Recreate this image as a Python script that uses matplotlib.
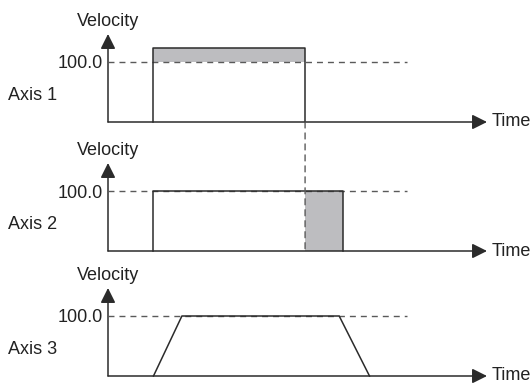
import matplotlib
matplotlib.use("Agg")
import matplotlib.pyplot as plt
from matplotlib.patches import ConnectionPatch

plt.rcParams['font.family'] = ['Liberation Sans', 'DejaVu Sans']

# ---- data (time in arbitrary units, velocity in %) ----
axis_names = ["Axis 1", "Axis 2", "Axis 3"]
ref_velocity = 100.0
ref_label = "100.0"
time_end = 10.0
dash_end = 7.9

# Axis 1 profile (rectangle above 100)
t1 = [1.2, 1.2, 5.2, 5.2]
v1 = [0, 123, 123, 0]
fill1_t = [1.2, 5.2]
fill1_lo = 100
fill1_hi = 123

# Axis 2 profile
t2 = [1.2, 1.2, 6.2, 6.2]
v2 = [0, 100, 100, 0]
fill2_t = [5.2, 6.2]
fill2_lo = 0
fill2_hi = 100

# Axis 3 trapezoid
t3 = [1.2, 1.95, 6.1, 6.9]
v3 = [0, 100, 100, 0]

sync_time = 5.2

# ---- layout ----
W, H = 532, 385
fig = plt.figure(figsize=(W / 100, H / 100), dpi=100)
x0_px, x1_px = 108, 487
baselines = [122, 251, 376]
ax_h_px = 88
ytop = ax_h_px / 60 * 100

line_c = '#2b2b2b'
dash_c = '#5a5a5a'
fill_c = '#bdbdc0'
text_c = '#222222'
fs = 13
arrow_style = '-|>,head_length=0.6,head_width=0.3'

axes = []
for name, base in zip(axis_names, baselines):
    ax = fig.add_axes([x0_px / W, 1 - base / H, (x1_px - x0_px) / W, ax_h_px / H])
    ax.set_xlim(0, time_end)
    ax.set_ylim(0, ytop)
    ax.axis('off')
    # arrows
    ax.annotate('', xy=(0, ytop), xytext=(0, 0),
                arrowprops=dict(arrowstyle=arrow_style, mutation_scale=15,
                                lw=1.1, color=line_c, shrinkA=0, shrinkB=0),
                annotation_clip=False)
    ax.annotate('', xy=(time_end, 0), xytext=(0, 0),
                arrowprops=dict(arrowstyle=arrow_style, mutation_scale=15,
                                lw=1.1, color=line_c, shrinkA=0, shrinkB=0),
                annotation_clip=False)
    # reference dashed line
    ax.plot([0, dash_end], [ref_velocity, ref_velocity], color=dash_c, lw=1.0,
            ls=(0, (4.3, 3.6)), clip_on=False, zorder=3)
    ax.text(-0.13, ref_velocity, ref_label, ha='right', va='center_baseline',
            fontsize=fs, color=text_c)
    ax.text(0, 168, 'Velocity', ha='center', va='center', fontsize=fs, color=text_c)
    ax.text(-2.64, 48, name, ha='left', va='center_baseline', fontsize=fs, color=text_c)
    ax.text(10.13, 0, 'Time', ha='left', va='center', fontsize=fs, color=text_c)
    axes.append(ax)

ax1, ax2, ax3 = axes
ax1.fill_between(fill1_t, fill1_lo, fill1_hi, color=fill_c, lw=0, zorder=1)
ax1.plot(t1, v1, color=line_c, lw=1.1, clip_on=False, zorder=4)

ax2.fill_between(fill2_t, fill2_lo, fill2_hi, color=fill_c, lw=0, zorder=1)
ax2.plot(t2, v2, color=line_c, lw=1.1, clip_on=False, zorder=4)

ax3.plot(t3, v3, color=line_c, lw=1.1, clip_on=False, zorder=4)

con = ConnectionPatch(xyA=(sync_time, 0), coordsA=ax1.transData,
                      xyB=(sync_time, 0), coordsB=ax2.transData,
                      color=dash_c, lw=1.0, ls=(0, (4.3, 3.6)), zorder=2)
fig.add_artist(con)

fig.savefig('out.png', dpi=100)
